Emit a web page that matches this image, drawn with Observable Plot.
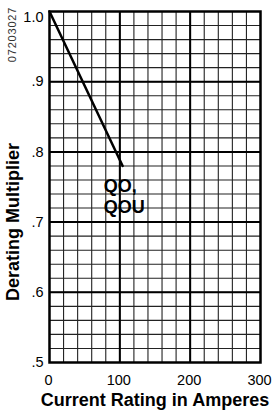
<!DOCTYPE html>
<html>
<head>
<meta charset="utf-8">
<script src="https://cdn.jsdelivr.net/npm/d3@7"></script>
<script src="https://cdn.jsdelivr.net/npm/@observablehq/plot@0.6"></script>
<style>
  html, body { margin: 0; padding: 0; background: #fff; }
  #chart { width: 273px; height: 413px; overflow: hidden; }
  .fig-id text { letter-spacing: 0.8px; }
</style>
</head>
<body>
<div id="chart"></div>
<script>
// Derating curve for QO, QOU breakers
const currentAmps = [0, 104];
const multiplier = [1.0, 0.78];

// Tick values and labels
const xTicks = [0, 100, 200, 300];
const xTickLabels = ["0", "100", "200", "300"];
const yTicks = [1.0, 0.9, 0.8, 0.7, 0.6, 0.5];
const yTickLabels = ["1.0", ".9", ".8", ".7", ".6", ".5"];
const xMinor = [0,20,40,60,80,100,120,140,160,180,200,220,240,260,280,300];
const xMajor = [100, 200];
const yMinor = [0.5,0.52,0.54,0.56,0.58,0.6,0.62,0.64,0.66,0.68,0.7,0.72,0.74,0.76,0.78,0.8,0.82,0.84,0.86,0.88,0.9,0.92,0.94,0.96,0.98,1.0];
const yMajor = [0.9, 0.8, 0.7, 0.6];

// Annotation
const seriesLabel = ["QO,\nQOU"];
const seriesLabelX = [77];
const seriesLabelY = [0.737];

const xTitle = "Current Rating in Amperes";
const yTitle = "Derating Multiplier";
const figureId = "07203027";

const curve = currentAmps.map((x, i) => ({x, y: multiplier[i]}));
const yTickData = yTicks.map((v, i) => ({v, label: yTickLabels[i]}));
const xTickData = xTicks.map((v, i) => ({v, label: xTickLabels[i]}));
const annot = seriesLabel.map((t, i) => ({t, x: seriesLabelX[i], y: seriesLabelY[i]}));

const chart = Plot.plot({
  width: 273,
  height: 413,
  marginLeft: 49,
  marginRight: 13,
  marginTop: 11,
  marginBottom: 51,
  style: {fontFamily: "'Liberation Sans', Arial, Helvetica, sans-serif", background: "#fff"},
  x: {domain: [0, 300], axis: null},
  y: {domain: [0.5, 1.0], axis: null},
  marks: [
    Plot.ruleX(xMinor, {stroke: "#222", strokeWidth: 1.1}),
    Plot.ruleY(yMinor, {stroke: "#222", strokeWidth: 1.1}),
    Plot.ruleX(xMajor, {stroke: "#000", strokeWidth: 2}),
    Plot.ruleY(yMajor, {stroke: "#000", strokeWidth: 2}),
    Plot.frame({stroke: "#000", strokeWidth: 2.5}),
    Plot.line(curve, {x: "x", y: "y", stroke: "#000", strokeWidth: 2.5}),
    Plot.text(annot, {x: "x", y: "y", text: "t", textAnchor: "start", fontSize: 18, fontWeight: "bold", lineHeight: 1.17, fill: "#000"}),
    // y tick labels
    Plot.text(yTickData.filter(d => d.v !== 1.0), {y: "v", text: "label", frameAnchor: "left", textAnchor: "end", dx: -6, fontSize: 14.5, fill: "#000"}),
    Plot.text(yTickData.filter(d => d.v === 1.0), {y: "v", text: "label", frameAnchor: "left", textAnchor: "end", dx: -6, dy: 6, fontSize: 14.5, fill: "#000"}),
    // x tick labels
    Plot.text(xTickData, {x: "v", text: "label", frameAnchor: "bottom", dy: 18, dx: -1, lineAnchor: "middle", fontSize: 14.5, fill: "#000"}),
    // axis titles
    Plot.text([xTitle], {text: d => d, frameAnchor: "bottom", dy: 38, textAnchor: "middle", lineAnchor: "middle", fontSize: 18, fontWeight: "bold", fill: "#000"}),
    Plot.text([yTitle], {text: d => d, frameAnchor: "left", rotate: -90, dx: -36, dy: 35, textAnchor: "middle", lineAnchor: "middle", fontSize: 18, fontWeight: "bold", fill: "#000"}),
    Plot.text([figureId], {text: d => d, frameAnchor: "top-left", rotate: -90, dx: -37, dy: 23, textAnchor: "middle", lineAnchor: "middle", fontSize: 11, fill: "#333", className: "fig-id"})
  ]
});
document.getElementById("chart").appendChild(chart);
</script>
</body>
</html>
